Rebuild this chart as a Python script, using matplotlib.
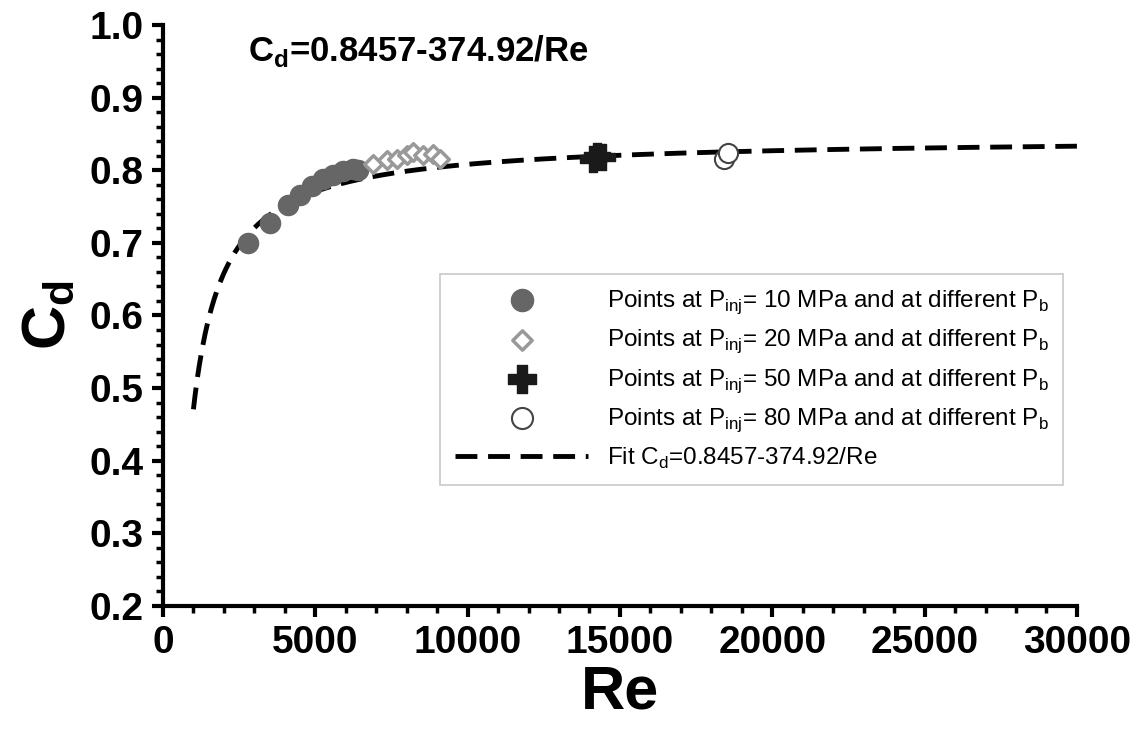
import numpy as np
import matplotlib
matplotlib.use("Agg")
import matplotlib.pyplot as plt

plt.rcParams['font.family'] = ['Liberation Sans', 'DejaVu Sans']
plt.rcParams['mathtext.fontset'] = 'custom'
plt.rcParams['mathtext.rm'] = 'Liberation Sans'
plt.rcParams['mathtext.bf'] = 'Liberation Sans:bold'

# data
re_10 = [2790, 3510, 4100, 4500, 4890, 5250, 5580, 5900, 6230, 6400]
cd_10 = [0.700, 0.728, 0.752, 0.766, 0.779, 0.788, 0.793, 0.799, 0.802, 0.801]
re_20 = [6900, 7350, 7680, 8000, 8200, 8530, 8860, 9090]
cd_20 = [0.809, 0.814, 0.816, 0.821, 0.825, 0.821, 0.822, 0.816]
re_50 = [14100, 14250, 14400]
cd_50 = [0.816, 0.820, 0.818]
re_80 = [18400, 18550]
cd_80 = [0.816, 0.824]

fit_a = 0.8457
fit_b = 374.92
re_fit = np.linspace(1000, 30000, 600)
cd_fit = fit_a - fit_b / re_fit

sub = r'Points at P$_\mathregular{inj}$= %d MPa and at different P$_\mathregular{b}$'

fig = plt.figure(figsize=(11.42, 7.38), dpi=100)
ax = fig.add_axes([0.1427, 0.179, 0.8003, 0.787])

ax.scatter(re_10, cd_10, s=210, color='#666666', zorder=3, label=sub % 10)
ax.scatter(re_20, cd_20, s=80, marker='D', facecolor='white', edgecolor='#999999',
           linewidth=2.5, zorder=3, label=sub % 20)
ax.scatter(re_50, cd_50, s=330, marker='P', color='#1a1a1a', zorder=3, label=sub % 50)
ax.scatter(re_80, cd_80, s=190, facecolor='white', edgecolor='#444444',
           linewidth=1.5, zorder=3, label=sub % 80)
ax.plot(re_fit, cd_fit, color='black', lw=3.5, dashes=(4.5, 2.2),
        label=r'Fit C$_\mathregular{d}$=0.8457-374.92/Re', zorder=2)

ax.set_xlim(0, 30000)
ax.set_ylim(0.2, 1.0)
ax.set_xticks(np.arange(0, 30001, 5000))
ax.set_xticks(np.arange(0, 30001, 1000), minor=True)
ax.set_yticks(np.arange(0.2, 1.01, 0.1))
ax.set_yticks(np.arange(0.2, 1.001, 0.02), minor=True)
ax.yaxis.set_major_formatter(matplotlib.ticker.FormatStrFormatter('%.1f'))

for s in ['top', 'right']:
    ax.spines[s].set_visible(False)
for s in ['left', 'bottom']:
    ax.spines[s].set_linewidth(3)
ax.tick_params(which='major', length=8, width=3, labelsize=28, pad=6)
ax.tick_params(which='minor', length=5, width=2.5)
for lab in ax.get_xticklabels() + ax.get_yticklabels():
    lab.set_fontweight('bold')

ax.set_xlabel('Re', fontsize=44, fontweight='bold', labelpad=2)
ax.set_ylabel(r'C$_\mathbf{d}$', fontsize=44, fontweight='bold', labelpad=8)

ax.text(0.093, 0.955, r'C$_\mathbf{d}$=0.8457-374.92/Re', transform=ax.transAxes,
        fontsize=25, fontweight='bold', va='center')

leg = ax.legend(loc='upper left', bbox_to_anchor=(0.29, 0.593), fontsize=17.5,
                frameon=True, fancybox=False, edgecolor='#bbbbbb',
                handlelength=5.5, handletextpad=0.75, labelspacing=0.48,
                borderpad=0.6, scatterpoints=1, markerscale=1.1)
leg.get_frame().set_linewidth(1.2)

fig.savefig('out.png', dpi=100)
